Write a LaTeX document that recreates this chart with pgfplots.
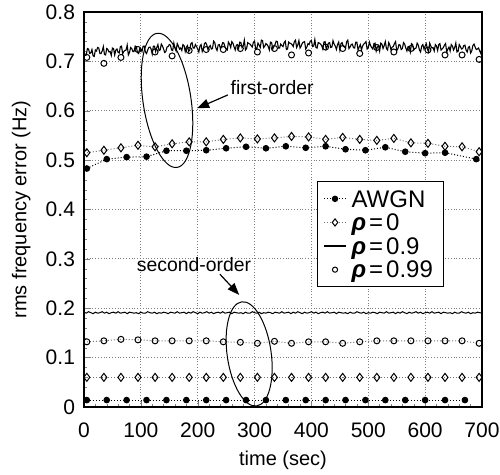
\documentclass[border=0pt]{standalone}
\usepackage{fontspec}
\setmainfont{Liberation Sans}
\usepackage{pgfplots}
\usepackage{pgfplotstable}
\pgfplotsset{compat=1.18}
\usetikzlibrary{arrows.meta,shapes.geometric}

% first-order rho=0.9 trace, read every 2 s (two halves, merged and sorted)
\pgfplotstableread[row sep=\\]{
t y \\
0 0.721 \\ 4 0.713 \\ 8 0.725 \\ 12 0.717 \\ 16 0.711 \\ 20 0.723 \\ 24 0.728 \\ 28 0.716 \\ 32 0.721 \\ 36 0.714 \\
40 0.726 \\ 44 0.719 \\ 48 0.712 \\ 52 0.726 \\ 56 0.723 \\ 60 0.718 \\ 64 0.730 \\ 68 0.715 \\ 72 0.722 \\ 76 0.733 \\
80 0.718 \\ 84 0.726 \\ 88 0.720 \\ 92 0.730 \\ 96 0.716 \\ 100 0.725 \\ 104 0.731 \\ 108 0.719 \\ 112 0.723 \\ 116 0.729 \\
120 0.715 \\ 124 0.731 \\ 128 0.728 \\ 132 0.722 \\ 136 0.735 \\ 140 0.725 \\ 144 0.720 \\ 148 0.730 \\ 152 0.733 \\ 156 0.722 \\
160 0.727 \\ 164 0.736 \\ 168 0.725 \\ 172 0.722 \\ 176 0.732 \\ 180 0.729 \\ 184 0.720 \\ 188 0.736 \\ 192 0.727 \\ 196 0.734 \\
200 0.725 \\ 204 0.731 \\ 208 0.720 \\ 212 0.736 \\ 216 0.733 \\ 220 0.729 \\ 224 0.725 \\ 228 0.741 \\ 232 0.727 \\ 236 0.733 \\
240 0.726 \\ 244 0.738 \\ 248 0.729 \\ 252 0.723 \\ 256 0.735 \\ 260 0.740 \\ 264 0.729 \\ 268 0.733 \\ 272 0.726 \\ 276 0.738 \\
280 0.731 \\ 284 0.723 \\ 288 0.738 \\ 292 0.735 \\ 296 0.729 \\ 300 0.741 \\ 304 0.726 \\ 308 0.733 \\ 312 0.743 \\ 316 0.728 \\
320 0.736 \\ 324 0.730 \\ 328 0.739 \\ 332 0.725 \\ 336 0.734 \\ 340 0.740 \\ 344 0.727 \\ 348 0.732 \\ 352 0.738 \\ 356 0.724 \\
360 0.739 \\ 364 0.736 \\ 368 0.730 \\ 372 0.743 \\ 376 0.733 \\ 380 0.727 \\ 384 0.737 \\ 388 0.740 \\ 392 0.729 \\ 396 0.734 \\
400 0.742 \\ 404 0.731 \\ 408 0.728 \\ 412 0.738 \\ 416 0.735 \\ 420 0.725 \\ 424 0.740 \\ 428 0.731 \\ 432 0.738 \\ 436 0.729 \\
440 0.735 \\ 444 0.724 \\ 448 0.739 \\ 452 0.736 \\ 456 0.731 \\ 460 0.727 \\ 464 0.743 \\ 468 0.729 \\ 472 0.735 \\ 476 0.727 \\
480 0.739 \\ 484 0.729 \\ 488 0.723 \\ 492 0.735 \\ 496 0.740 \\ 500 0.728 \\ 504 0.732 \\ 508 0.725 \\ 512 0.737 \\ 516 0.729 \\
520 0.721 \\ 524 0.735 \\ 528 0.732 \\ 532 0.726 \\ 536 0.738 \\ 540 0.723 \\ 544 0.730 \\ 548 0.740 \\ 552 0.725 \\ 556 0.733 \\
560 0.726 \\ 564 0.735 \\ 568 0.721 \\ 572 0.730 \\ 576 0.736 \\ 580 0.723 \\ 584 0.727 \\ 588 0.733 \\ 592 0.719 \\ 596 0.734 \\
600 0.731 \\ 604 0.725 \\ 608 0.737 \\ 612 0.727 \\ 616 0.721 \\ 620 0.731 \\ 624 0.734 \\ 628 0.723 \\ 632 0.728 \\ 636 0.736 \\
640 0.725 \\ 644 0.721 \\ 648 0.731 \\ 652 0.728 \\ 656 0.719 \\ 660 0.734 \\ 664 0.725 \\ 668 0.732 \\ 672 0.723 \\ 676 0.728 \\
680 0.717 \\ 684 0.732 \\ 688 0.729 \\ 692 0.725 \\ 696 0.721 \\ 700 0.728 \\
}\foA
\pgfplotstableread[row sep=\\]{
t y \\
2 0.712 \\ 6 0.726 \\ 10 0.716 \\ 14 0.724 \\ 18 0.710 \\ 22 0.721 \\ 26 0.727 \\ 30 0.716 \\ 34 0.730 \\ 38 0.713 \\
42 0.724 \\ 46 0.720 \\ 50 0.727 \\ 54 0.713 \\ 58 0.725 \\ 62 0.717 \\ 66 0.731 \\ 70 0.720 \\ 74 0.723 \\ 78 0.713 \\
82 0.728 \\ 86 0.720 \\ 90 0.731 \\ 94 0.718 \\ 98 0.726 \\ 102 0.720 \\ 106 0.731 \\ 110 0.716 \\ 114 0.728 \\ 118 0.725 \\
122 0.731 \\ 126 0.720 \\ 130 0.734 \\ 134 0.723 \\ 138 0.731 \\ 142 0.718 \\ 146 0.729 \\ 150 0.734 \\ 154 0.723 \\ 158 0.737 \\
162 0.721 \\ 166 0.731 \\ 170 0.727 \\ 174 0.734 \\ 178 0.720 \\ 182 0.732 \\ 186 0.723 \\ 190 0.738 \\ 194 0.727 \\ 198 0.730 \\
202 0.719 \\ 206 0.734 \\ 210 0.726 \\ 214 0.738 \\ 218 0.724 \\ 222 0.732 \\ 226 0.726 \\ 230 0.738 \\ 234 0.722 \\ 238 0.734 \\
242 0.731 \\ 246 0.737 \\ 250 0.725 \\ 254 0.739 \\ 258 0.728 \\ 262 0.737 \\ 266 0.723 \\ 270 0.734 \\ 274 0.739 \\ 278 0.728 \\
282 0.743 \\ 286 0.726 \\ 290 0.736 \\ 294 0.732 \\ 298 0.739 \\ 302 0.725 \\ 306 0.737 \\ 310 0.728 \\ 314 0.742 \\ 318 0.731 \\
322 0.734 \\ 326 0.723 \\ 330 0.738 \\ 334 0.730 \\ 338 0.741 \\ 342 0.727 \\ 346 0.735 \\ 350 0.730 \\ 354 0.741 \\ 358 0.725 \\
362 0.737 \\ 366 0.734 \\ 370 0.740 \\ 374 0.728 \\ 378 0.742 \\ 382 0.731 \\ 386 0.739 \\ 390 0.725 \\ 394 0.736 \\ 398 0.741 \\
402 0.730 \\ 406 0.744 \\ 410 0.727 \\ 414 0.737 \\ 418 0.732 \\ 422 0.739 \\ 426 0.725 \\ 430 0.737 \\ 434 0.728 \\ 438 0.742 \\
442 0.731 \\ 446 0.734 \\ 450 0.723 \\ 454 0.738 \\ 458 0.729 \\ 462 0.740 \\ 466 0.726 \\ 470 0.734 \\ 474 0.728 \\ 478 0.739 \\
482 0.723 \\ 486 0.734 \\ 490 0.731 \\ 494 0.737 \\ 498 0.725 \\ 502 0.739 \\ 506 0.728 \\ 510 0.736 \\ 514 0.721 \\ 518 0.732 \\
522 0.737 \\ 526 0.726 \\ 530 0.740 \\ 534 0.723 \\ 538 0.733 \\ 542 0.729 \\ 546 0.736 \\ 550 0.722 \\ 554 0.734 \\ 558 0.724 \\
562 0.738 \\ 566 0.727 \\ 570 0.730 \\ 574 0.719 \\ 578 0.734 \\ 582 0.726 \\ 586 0.737 \\ 590 0.723 \\ 594 0.731 \\ 598 0.725 \\
602 0.736 \\ 606 0.719 \\ 610 0.731 \\ 614 0.728 \\ 618 0.734 \\ 622 0.722 \\ 626 0.736 \\ 630 0.725 \\ 634 0.733 \\ 638 0.719 \\
642 0.729 \\ 646 0.734 \\ 650 0.723 \\ 654 0.737 \\ 658 0.720 \\ 662 0.730 \\ 666 0.726 \\ 670 0.733 \\ 674 0.719 \\ 678 0.730 \\
682 0.721 \\ 686 0.735 \\ 690 0.724 \\ 694 0.727 \\ 698 0.716 \\
}\foB
\pgfplotstablevertcat{\foA}{\foB}
\pgfplotstablesort[sort key=t, sort cmp=float <]{\foAll}{\foA}

\begin{document}
\begin{tikzpicture}
\useasboundingbox (-42pt,-34pt) rectangle (208pt,203.5pt);
\begin{axis}[
  at={(0,0)}, anchor=south west,
  scale only axis, width=199pt, height=197.5pt,
  xmin=0, xmax=700, ymin=0, ymax=0.8,
  xtick={0,100,...,700}, ytick={0,0.1,0.2,0.3,0.4,0.5,0.6,0.7,0.8},
  minor x tick num=4, minor y tick num=4,
  tick pos=left, tick align=inside,
  major tick length=3pt, minor tick length=1.5pt,
  grid=major, grid style={densely dotted, black!50, line width=0.4pt},
  axis line style={line width=0.6pt},
  /pgf/number format/assume math mode=true,
  tick label style={font=\fontsize{10.5}{12}\selectfont},
  label style={font=\fontsize{10}{12}\selectfont},
  xticklabel style={yshift=-4.5pt},
  yticklabel style={xshift=-1pt, /pgf/number format/fixed, /pgf/number format/precision=1},
  xlabel={time (sec)}, ylabel={rms frequency error (Hz)},
  xlabel style={at={(axis description cs:0.5,-0.136)}, anchor=center},
  ylabel style={at={(axis description cs:-0.158,0.5)}, anchor=center},
  legend style={at={(0.585,0.572)}, anchor=north west, draw=black, line width=0.6pt,
    font=\fontsize{12}{13}\selectfont, inner xsep=3pt, inner ysep=3.5pt, row sep=1.6pt,
    nodes={inner ysep=0.6pt, inner xsep=2.5pt, text height=8.6pt, text depth=0.4pt}},
  legend cell align=left,
]
% legend entries
\addlegendimage{legend image code/.code={\draw[densely dotted, line width=0.5pt] (0pt,0pt)--(11pt,0pt); \fill (5.5pt,0pt) circle (1.3pt);}}
\addlegendentry{AWGN}
\addlegendimage{legend image code/.code={\draw[densely dotted, black!55, line width=0.5pt] (0pt,0pt)--(11pt,0pt); \draw[fill=white, line width=0.5pt] (5.5pt,1.8pt)--(6.9pt,0pt)--(5.5pt,-1.8pt)--(4.1pt,0pt)--cycle;}}
\addlegendentry{\textbf{\textit{ρ}}\hspace{1.5pt}=\hspace{1.5pt}0}
\addlegendimage{legend image code/.code={\draw[line width=0.6pt] (0pt,0pt)--(11pt,0pt);}}
\addlegendentry{\textbf{\textit{ρ}}\hspace{1.5pt}=\hspace{1.5pt}0.9}
\addlegendimage{legend image code/.code={\draw[line width=0.5pt] (5.5pt,0pt) circle (1.3pt);}}
\addlegendentry{\textbf{\textit{ρ}}\hspace{1.5pt}=\hspace{1.5pt}0.99}

% first-order, rho=0.9
\addplot[black, line width=0.55pt, forget plot] table[x=t, y=y] {\foAll};

% first-order, rho=0.99
\addplot[only marks, mark=o, mark size=1.5pt, mark options={line width=0.5pt}, forget plot] coordinates {
(5,0.708)(35,0.696)(65,0.708)(95,0.724)(125,0.719)(155,0.711)(185,0.722)(215,0.724)(245,0.724)(275,0.726)(305,0.719)(335,0.726)(365,0.713)(395,0.717)(425,0.729)(455,0.726)(485,0.716)(515,0.728)(545,0.719)(575,0.726)(605,0.723)(635,0.713)(665,0.713)(695,0.704)};

% first-order, rho=0
\addplot[densely dotted, black!55, line width=0.5pt, mark=diamond, mark size=2pt, mark options={solid, black, fill=white}, forget plot] coordinates {
(5,0.515)(35,0.520)(65,0.525)(95,0.530)(125,0.527)(155,0.533)(185,0.537)(215,0.537)(245,0.542)(275,0.545)(305,0.543)(335,0.545)(365,0.548)(395,0.547)(425,0.542)(455,0.546)(485,0.542)(515,0.540)(545,0.544)(575,0.535)(605,0.534)(635,0.528)(665,0.527)(695,0.517)};

% first-order, AWGN
\addplot[densely dotted, black, line width=0.5pt, mark=*, mark size=1.4pt, mark options={solid}, forget plot] coordinates {
(5,0.483)(40,0.502)(75,0.506)(110,0.507)(145,0.519)(180,0.519)(215,0.520)(250,0.524)(285,0.527)(320,0.524)(355,0.528)(390,0.525)(425,0.528)(460,0.522)(495,0.520)(530,0.526)(565,0.517)(600,0.514)(635,0.515)(690,0.502)};

% second-order, rho=0.9
\addplot[black, line width=0.5pt, forget plot] coordinates {
(0,0.192)(4,0.190)(8,0.193)(12,0.191)(16,0.189)(20,0.192)(24,0.190)(28,0.191)(32,0.193)(36,0.190)(40,0.192)(44,0.189)(48,0.191)(52,0.192)(56,0.190)(60,0.193)(64,0.190)(68,0.191)(72,0.192)(76,0.189)(80,0.192)(84,0.191)(88,0.190)
(92,0.191)(96,0.189)(100,0.192)(104,0.190)(108,0.190)(112,0.193)(116,0.191)(120,0.190)(124,0.192)(128,0.189)(132,0.191)(136,0.190)(140,0.192)(144,0.191)(148,0.189)(152,0.192)(156,0.191)(160,0.190)(164,0.193)(168,0.190)(172,0.191)(176,0.192)(180,0.189)
(184,0.192)(188,0.190)(192,0.193)(196,0.191)(200,0.189)(204,0.192)(208,0.190)(212,0.191)(216,0.193)(220,0.190)(224,0.192)(228,0.189)(232,0.191)(236,0.192)(240,0.190)(244,0.193)(248,0.190)(252,0.191)(256,0.192)(260,0.189)(264,0.192)(268,0.191)(272,0.190)
(276,0.191)(280,0.189)(284,0.192)(288,0.190)(292,0.190)(296,0.193)(300,0.191)(304,0.190)(308,0.192)(312,0.189)(316,0.191)(320,0.190)(324,0.192)(328,0.191)(332,0.189)(336,0.192)(340,0.191)(344,0.190)(348,0.193)(352,0.190)(356,0.191)(360,0.192)(364,0.189)
(368,0.192)(372,0.190)(376,0.193)(380,0.191)(384,0.189)(388,0.192)(392,0.190)(396,0.191)(400,0.193)(404,0.190)(408,0.192)(412,0.189)(416,0.191)(420,0.192)(424,0.190)(428,0.193)(432,0.190)(436,0.191)(440,0.192)(444,0.189)(448,0.192)(452,0.191)(456,0.190)
(460,0.191)(464,0.189)(468,0.192)(472,0.190)(476,0.190)(480,0.193)(484,0.191)(488,0.190)(492,0.192)(496,0.189)(500,0.191)(504,0.190)(508,0.192)(512,0.191)(516,0.189)(520,0.192)(524,0.191)(528,0.190)(532,0.193)(536,0.190)(540,0.191)(544,0.192)(548,0.189)
(552,0.192)(556,0.190)(560,0.193)(564,0.191)(568,0.189)(572,0.192)(576,0.190)(580,0.191)(584,0.193)(588,0.190)(592,0.192)(596,0.189)(600,0.191)(604,0.192)(608,0.190)(612,0.193)(616,0.190)(620,0.191)(624,0.192)(628,0.189)(632,0.192)(636,0.191)(640,0.190)
(644,0.191)(648,0.189)(652,0.192)(656,0.190)(660,0.190)(664,0.193)(668,0.191)(672,0.190)(676,0.192)(680,0.189)(684,0.191)(688,0.190)(692,0.192)(696,0.191)(700,0.190)};

% second-order, rho=0.99
\addplot[densely dotted, black!55, line width=0.5pt, mark=o, mark size=1.5pt, mark options={solid, black}, forget plot] coordinates {
(5,0.132)(35,0.134)(65,0.137)(95,0.136)(125,0.134)(155,0.134)(185,0.134)(215,0.134)(245,0.132)(275,0.131)(305,0.129)(335,0.133)(365,0.129)(395,0.132)(425,0.132)(455,0.129)(485,0.132)(515,0.134)(545,0.134)(575,0.134)(605,0.134)(635,0.134)(665,0.134)(695,0.129)};

% second-order, rho=0
\addplot[densely dotted, black!55, line width=0.5pt, mark=diamond, mark size=2pt, mark options={solid, black, fill=white}, forget plot] coordinates {
(5,0.060)(35,0.060)(65,0.060)(95,0.060)(125,0.060)(155,0.060)(185,0.060)(215,0.060)(245,0.060)(275,0.060)(305,0.060)(335,0.060)(365,0.060)(395,0.060)(425,0.060)(455,0.060)(485,0.060)(515,0.060)(545,0.060)(575,0.060)(605,0.060)(635,0.060)(665,0.060)(695,0.060)};

% second-order, AWGN
\addplot[densely dotted, black, line width=0.5pt, mark=*, mark size=1.4pt, mark options={solid}, forget plot] coordinates {
(5,0.014)(40,0.014)(75,0.014)(110,0.014)(145,0.014)(180,0.014)(215,0.014)(250,0.014)(285,0.014)(320,0.014)(355,0.014)(390,0.014)(425,0.014)(460,0.014)(495,0.014)(530,0.014)(565,0.014)(600,0.014)(635,0.014)(670,0.014)};

% annotations
\node[font=\fontsize{9.7}{11}\selectfont] at (axis cs:331,0.646) {first-order};
\draw[-{Triangle[length=6pt,width=4.5pt]}, line width=0.6pt] (axis cs:253,0.632) -- (axis cs:199,0.605);
\node[draw, ellipse, line width=0.5pt, minimum width=24pt, minimum height=67.8pt, inner sep=0pt, rotate=8.5] at (axis cs:146,0.621) {};
\node[font=\fontsize{9.7}{11}\selectfont] at (axis cs:193.5,0.288) {second-order};
\draw[-{Triangle[length=6pt,width=4.5pt]}, line width=0.6pt] (axis cs:239,0.269) -- (axis cs:273,0.227);
\node[draw, ellipse, line width=0.5pt, minimum width=22pt, minimum height=52.6pt, inner sep=0pt, rotate=8.2] at (axis cs:290.5,0.1075) {};
\end{axis}
\end{tikzpicture}
\end{document}
